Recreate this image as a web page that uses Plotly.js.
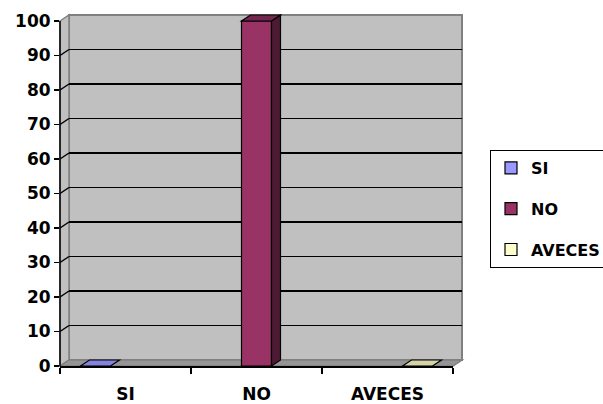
<!DOCTYPE html>
<html>
<head>
<meta charset="utf-8">
<script src="https://cdn.plot.ly/plotly-3.0.1.min.js"></script>
<style>html,body{margin:0;padding:0;background:#fff;}#chart{width:603px;height:404px;}</style>
</head>
<body>
<div id="chart"></div>
<script>
// ---- data ----
const categories = ['SI', 'NO', 'AVECES'];
const seriesNames = ['SI', 'NO', 'AVECES'];
const siValues = [0, null, null];
const noValues = [null, 100, null];
const avecesValues = [null, null, 0];
const yTickValues = [0, 10, 20, 30, 40, 50, 60, 70, 80, 90, 100];

// ---- styles / geometry ----
const W = 603, H = 404;
const px = x => x / W;
const py = y => 1 - y / H;
const FRONT = {left: 60, right: 453, base: 366, top100: 21, domTop: 8};
const DX = 9, DY = 6;
const pxPerUnit = (FRONT.base - FRONT.top100) / 100;
const pxPerCat = (FRONT.right - FRONT.left) / categories.length;
const yTop = (FRONT.base - FRONT.domTop) / pxPerUnit;
const ddx = DX / pxPerCat, ddy = DY / pxPerUnit;
const barW = 30 / pxPerCat;
const frontColors = ['#9999FF', '#993366', '#FFFFCC'];
const topColors = ['#8484e0', '#732650', '#d4d4a8'];
const sideColors = ['#6a6ab4', '#4d1a33', '#b0b08a'];
const allValues = [siValues, noValues, avecesValues];

const traces = [
  {type: 'scatter', x: [], y: [], xaxis: 'x', yaxis: 'y', showlegend: false, hoverinfo: 'skip'}
];
allValues.forEach((vals, k) => {
  traces.push({
    type: 'bar', name: seriesNames[k], x: categories, y: vals,
    xaxis: 'x2', yaxis: 'y2', legendgroup: 'g' + k,
    marker: {color: frontColors[k], line: {color: '#000', width: 1.2}},
    hoverinfo: 'skip'
  });
});

const shapes = [];
const P = (x, y) => px(x) + ',' + py(y);
// back wall, left wall, floor (decoration, paper coords)
shapes.push({type: 'rect', xref: 'paper', yref: 'paper', layer: 'below',
  x0: px(69), x1: px(462), y0: py(360), y1: py(15),
  fillcolor: '#C0C0C0', line: {color: '#808080', width: 2}});
shapes.push({type: 'path', xref: 'paper', yref: 'paper', layer: 'below',
  path: 'M' + P(60, 21) + 'L' + P(69, 15) + 'L' + P(69, 360) + 'L' + P(60, 366) + 'Z',
  fillcolor: '#C0C0C0', line: {color: '#808080', width: 1.5}});
shapes.push({type: 'path', xref: 'paper', yref: 'paper', layer: 'below',
  path: 'M' + P(60, 366) + 'L' + P(69, 360) + 'L' + P(462, 360) + 'L' + P(453, 366) + 'Z',
  fillcolor: '#959595', line: {color: '#808080', width: 1.5}});
// left wall grid diagonals
yTickValues.forEach(v => {
  if (v === 0 || v === 100) return;
  shapes.push({type: 'line', xref: 'paper', yref: 'y2', layer: 'above',
    x0: px(60), x1: px(69), y0: v, y1: v + ddy, line: {color: '#000', width: 1.5}});
});
// front value axis line
shapes.push({type: 'line', xref: 'paper', yref: 'y2', layer: 'above',
  x0: px(60), x1: px(60), y0: 0, y1: 100, line: {color: '#000', width: 1.5}});

// 3D faces of bars from data
allValues.forEach((vals, k) => {
  vals.forEach((v, i) => {
    if (v === null) return;
    const c = i + (k - 1) * barW;
    const L = c - barW / 2, R = c + barW / 2;
    if (v > 0) {
      shapes.push({type: 'path', xref: 'x2', yref: 'y2', layer: 'above',
        path: `M${R},0L${R},${v}L${R + ddx},${v + ddy}L${R + ddx},${ddy}Z`,
        fillcolor: sideColors[k], line: {color: '#000', width: 1.2}});
    }
    shapes.push({type: 'path', xref: 'x2', yref: 'y2', layer: 'above',
      path: `M${L},${v}L${R},${v}L${R + ddx},${v + ddy}L${L + ddx},${v + ddy}Z`,
      fillcolor: topColors[k], line: {color: '#000', width: 1.2}});
  });
});

const layout = {
  width: W, height: H,
  margin: {l: 0, r: 0, t: 0, b: 0, autoexpand: false},
  paper_bgcolor: '#fff', plot_bgcolor: 'rgba(0,0,0,0)',
  font: {family: 'DejaVu Sans', size: 17, color: '#000', weight: 'bold'},
  barmode: 'group', bargap: 1 - 3 * barW, bargroupgap: 0,
  showlegend: true,
  legend: {xref: 'container', yref: 'container', x: 490 / W, y: 1 - 150 / H,
    xanchor: 'left', yanchor: 'top', bgcolor: '#fff', bordercolor: '#000', borderwidth: 1,
    font: {size: 16, family: 'DejaVu Sans', weight: 'bold', color: '#000'},
    tracegroupgap: 17, itemwidth: 30, traceorder: 'grouped'},
  xaxis: {domain: [px(69), px(462)], range: [0, 1], showgrid: false, zeroline: false,
    showline: false, showticklabels: false, ticks: '', anchor: 'y', fixedrange: true},
  yaxis: {domain: [py(360), py(15)], range: [0, 100], tickvals: yTickValues.slice(1, -1),
    showticklabels: false, ticks: '', showgrid: true, gridcolor: '#000', gridwidth: 1.6,
    zeroline: false, showline: false, anchor: 'x', fixedrange: true},
  xaxis2: {domain: [px(FRONT.left), px(FRONT.right)], type: 'category',
    categoryorder: 'array', categoryarray: categories, range: [-0.5, categories.length - 0.5],
    tickson: 'boundaries', ticks: 'outside', ticklen: 6, tickwidth: 1.5, tickcolor: '#000',
    showline: true, linecolor: '#000', linewidth: 1.5, showgrid: false, zeroline: false,
    anchor: 'y2', fixedrange: true, tickfont: {size: 17}, ticklabelstandoff: 12},
  yaxis2: {domain: [py(FRONT.base), py(FRONT.domTop)], range: [0, yTop], tickvals: yTickValues,
    ticks: 'outside', ticklen: 5, tickwidth: 1.5, tickcolor: '#000', showline: false,
    showgrid: false, zeroline: false, anchor: 'x2', fixedrange: true, tickfont: {size: 17}},
  shapes: shapes
};

Plotly.newPlot('chart', traces, layout, {staticPlot: true, displayModeBar: false});
</script>
</body>
</html>
